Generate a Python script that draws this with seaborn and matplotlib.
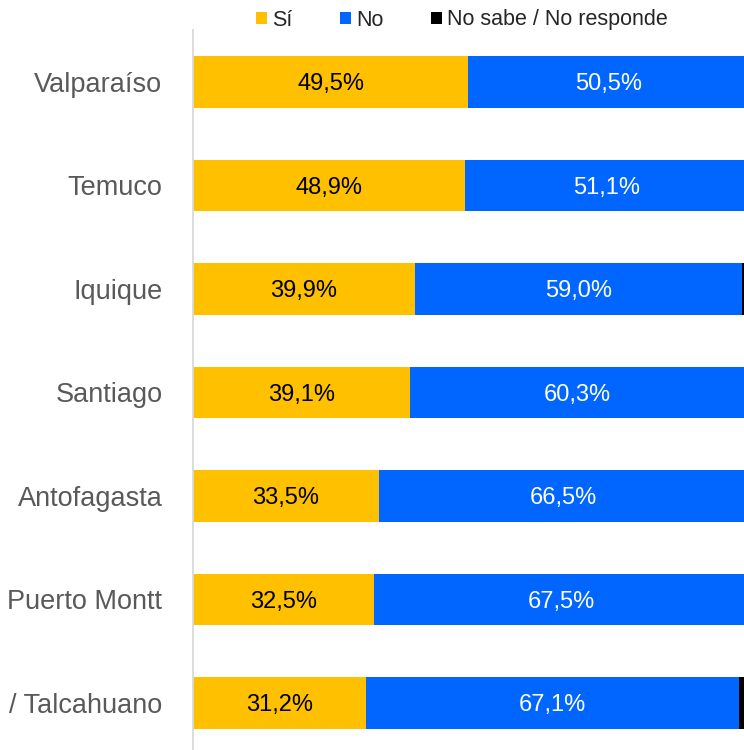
import matplotlib
matplotlib.use("Agg")
import matplotlib.pyplot as plt
from matplotlib.patches import Patch
import seaborn as sns
import numpy as np
import pandas as pd

# ---- data ----
cities = ["Valparaíso", "Temuco", "Iquique", "Santiago", "Antofagasta",
          "Puerto Montt", "/ Talcahuano"]
si = [49.5, 48.9, 39.9, 39.1, 33.5, 32.5, 31.2]
no = [50.5, 51.1, 59.0, 60.3, 66.5, 67.5, 67.1]
nsnr = [0.0, 0.0, 1.1, 0.6, 0.0, 0.0, 1.7]
series_names = ["Sí", "No", "No sabe / No responde"]

# ---- styles ----
C_SI = "#FFC000"
C_NO = "#0066FF"
C_NS = "#000000"

sns.set_theme(style="white")
plt.rcParams["font.family"] = ["Liberation Sans", "DejaVu Sans"]

df = pd.DataFrame({"city": cities, "si": si, "no": no, "ns": nsnr})
df["cum_no"] = df["si"] + df["no"]
df["cum_ns"] = df["cum_no"] + df["ns"]

W, H = 744, 750
fig = plt.figure(figsize=(W / 100, H / 100), dpi=100)
ax = fig.add_axes([193 / W, -0.0063, (748.6 - 193) / W, 0.966])

sns.barplot(data=df, y="city", x="cum_ns", color=C_NS, orient="h",
            width=0.5, ax=ax, linewidth=0, saturation=1)
sns.barplot(data=df, y="city", x="cum_no", color=C_NO, orient="h",
            width=0.5, ax=ax, linewidth=0, saturation=1)
sns.barplot(data=df, y="city", x="si", color=C_SI, orient="h",
            width=0.5, ax=ax, linewidth=0, saturation=1)

ax.set_xlim(0, 100)
ax.set_ylim(len(cities) - 0.5, -0.5)
ax.set_xlabel("")
ax.set_ylabel("")
ax.set_xticks([])

def fmt(v):
    return f"{v:.1f}".replace(".", ",") + "%"

for i, row in df.iterrows():
    ax.text(row["si"] / 2, i + 0.08, fmt(row["si"]), ha="center",
            va="baseline", fontsize=17, color="black")
    ax.text(row["si"] + row["no"] / 2, i + 0.08, fmt(row["no"]), ha="center",
            va="baseline", fontsize=17, color="white")

ax.tick_params(axis="y", length=0, pad=22, labelsize=19.5, labelcolor="#595959")
for s in ["top", "right", "bottom"]:
    ax.spines[s].set_visible(False)
ax.spines["left"].set_color("#D9D9D9")
ax.spines["left"].set_linewidth(1.3)

handles = [Patch(facecolor=c, edgecolor="none") for c in (C_SI, C_NO, C_NS)]
fig.legend(handles, series_names, loc="center",
           bbox_to_anchor=(462 / W, 1 - 20 / H), ncol=3, frameon=False,
           fontsize=15.5, handlelength=0.5, handleheight=0.5,
           handletextpad=0.25, columnspacing=2.2, borderaxespad=0)

fig.savefig("out.png", dpi=100)
